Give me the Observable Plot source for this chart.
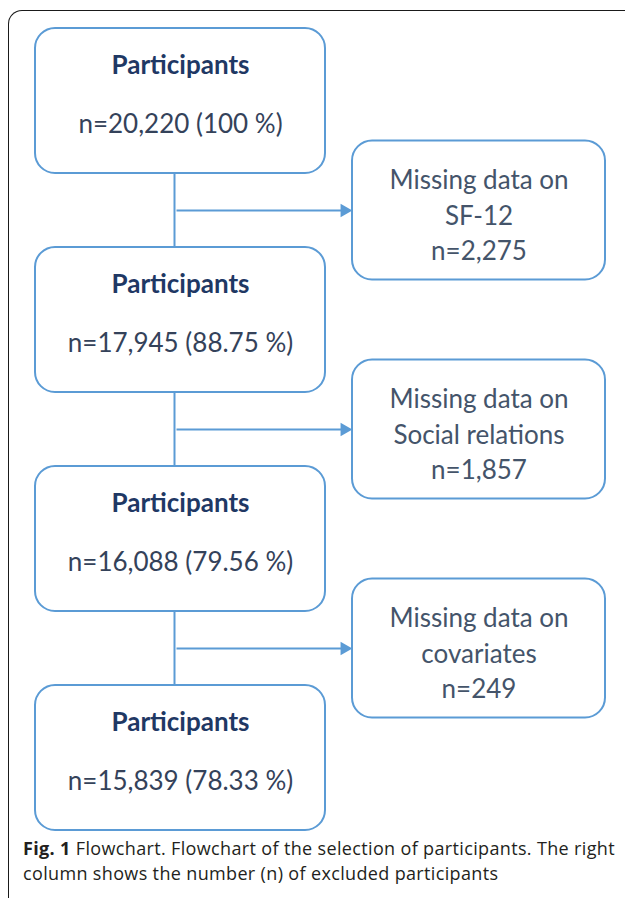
<!DOCTYPE html>
<html>
<head>
<meta charset="utf-8">
<script src="https://cdn.jsdelivr.net/npm/d3@7"></script>
<script src="https://cdn.jsdelivr.net/npm/@observablehq/plot@0.6"></script>
<style>
  html, body { margin: 0; padding: 0; background: #fff; }
  body { position: relative; width: 625px; height: 898px; overflow: hidden; }
  #frame { position: absolute; left: 8px; top: 10px; width: 700px; height: 1000px;
           border-top: 1.6px solid #1a1a1a; border-left: 1.6px solid #1a1a1a; border-top-left-radius: 14px; box-sizing: border-box; }
  #chart { position: absolute; left: 0; top: 0; }
  #caption { position: absolute; left: 23px; top: 836px; font-family: "Open Sans", Lato, sans-serif;
             font-size: 18px; letter-spacing: 0.35px; line-height: 25px; color: #231f20; white-space: nowrap; }
  #caption b { font-weight: 700; }
</style>
</head>
<body>
<div id="frame"></div>
<div id="chart"></div>
<div id="caption"><b>Fig. 1</b> Flowchart. Flowchart of the selection of participants. The right<br>column shows the number (n) of excluded participants</div>
<script>
// ---- data ----
const stageLabels = ["Participants", "Participants", "Participants", "Participants"];
const stageCounts = [20220, 17945, 16088, 15839];
const stagePercents = [100, 88.75, 79.56, 78.33];
const exclusionTopics = ["SF-12", "Social relations", "covariates"];
const exclusionCounts = [2275, 1857, 249];

// ---- layout (derived from step index) ----
const W = 625, H = 840;
const mainX1 = 35, mainX2 = 325, mainTop0 = 28, mainStep = 219, mainH = 145;
const connX = 174;
const sideX1 = 352, sideX2 = 605, sideH = 139, arrowGap = 37;

const fmtN = d3.format(",");
const fmtP = p => (p === 100 ? "100" : p.toFixed(2)) + " %";

const mainBoxes = stageLabels.map((label, i) => {
  const y1 = mainTop0 + i * mainStep;
  return {label, count: stageCounts[i], pct: stagePercents[i], x1: mainX1, x2: mainX2, y1, y2: y1 + mainH,
          cx: (mainX1 + mainX2) / 2};
});
const sideBoxes = exclusionTopics.map((topic, i) => {
  const ay = mainBoxes[i].y2 + arrowGap;
  return {topic, count: exclusionCounts[i], x1: sideX1, x2: sideX2, y1: ay - sideH / 2, y2: ay + sideH / 2,
          cx: (sideX1 + sideX2) / 2, cy: ay,
          text: "Missing data on\n" + topic + "\nn=" + fmtN(exclusionCounts[i])};
});
const connectors = mainBoxes.slice(0, -1).map((b, i) => ({x: connX, y1: b.y2, y2: mainBoxes[i + 1].y1}));
const arrows = sideBoxes.map(s => ({x1: connX + 2, x2: s.x1 - 10, xTip: s.x1, y: s.cy}));

const blue = "#5b9bd5";
const font = "Lato, 'Open Sans', sans-serif";

const chart = Plot.plot({
  width: W, height: H, margin: 0,
  x: {domain: [0, W], range: [0, W], axis: null},
  y: {domain: [0, H], range: [0, H], axis: null},
  style: {background: "transparent", overflow: "visible", fontFamily: font},
  marks: [
    Plot.ruleX(connectors, {x: "x", y1: "y1", y2: "y2", stroke: blue, strokeWidth: 2}),
    Plot.link(arrows, {x1: "x1", x2: "x2", y1: "y", y2: "y", stroke: blue, strokeWidth: 2}),
    Plot.dot(arrows, {x: "xTip", y: "y", symbol: "triangle2", r: 6.5, rotate: 90, fill: blue, dx: -8}),
    Plot.rect(mainBoxes, {x1: "x1", x2: "x2", y1: "y1", y2: "y2", rx: 20, fill: "white", stroke: blue, strokeWidth: 2}),
    Plot.rect(sideBoxes, {x1: "x1", x2: "x2", y1: "y1", y2: "y2", rx: 20, fill: "white", stroke: blue, strokeWidth: 2}),
    Plot.text(mainBoxes, {x: "cx", y: d => d.y1 + 45, text: "label", lineAnchor: "bottom",
      fontSize: 26, fontWeight: "bold", fill: "#1f3864", fontFamily: font}),
    Plot.text(mainBoxes, {x: "cx", y: d => d.y1 + 104, text: d => "n=" + fmtN(d.count) + " (" + fmtP(d.pct) + ")",
      lineAnchor: "bottom", fontSize: 26, fill: "#34425a", fontFamily: font}),
    Plot.text(sideBoxes, {x: "cx", y: "cy", text: "text", lineHeight: 1.36, dy: 3,
      fontSize: 26, fill: "#44546a", fontFamily: font})
  ]
});
document.getElementById("chart").appendChild(chart);
</script>
</body>
</html>
